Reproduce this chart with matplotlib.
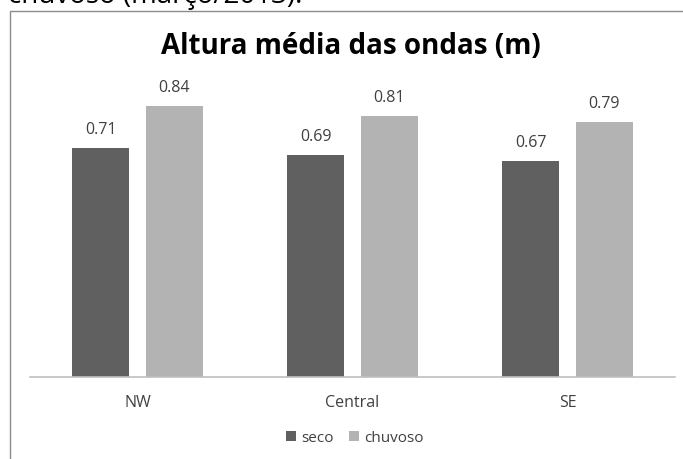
import numpy as np
import matplotlib
matplotlib.use('Agg')
import matplotlib.pyplot as plt
from matplotlib.patches import Rectangle

# Data
categories = ['NW', 'Central', 'SE']
seco = [0.71, 0.69, 0.67]
chuvoso = [0.84, 0.81, 0.79]
series_names = ['seco', 'chuvoso']
title = 'Altura média das ondas (m)'
caption = 'chuvoso (março/2013).'

plt.rcParams['font.family'] = ['Open Sans', 'DejaVu Sans']

W, H = 683, 459
fig = plt.figure(figsize=(W / 100, H / 100), dpi=100)

# chart frame (extends past right and bottom edges)
fig.patches.append(Rectangle((10 / W, -0.1), 1.2, (H - 11) / H + 0.1,
                             transform=fig.transFigure, fill=False,
                             edgecolor='#8c8c8c', linewidth=1.0))

# caption text cut off by the page crop
fig.text(302 / W, 1 - 3 / H, caption, ha='right', va='baseline',
         fontsize=20, color='black')

ax = fig.add_axes([30 / W, 82 / H, 645 / W, 290 / H])
x = np.arange(len(categories))
width = 0.265
off = 0.17
b1 = ax.bar(x - off, seco, width, color='#606060', label=series_names[0])
b2 = ax.bar(x + off, chuvoso, width, color='#b3b3b3', label=series_names[1])

for bars, vals in [(b1, seco), (b2, chuvoso)]:
    for rect, v in zip(bars, vals):
        ax.annotate(f'{v:.2f}', (rect.get_x() + rect.get_width() / 2, v),
                    xytext=(0, 13), textcoords='offset points',
                    ha='center', va='center', fontsize=11.5, color='#404040')

ax.set_xlim(-0.5, 2.5)
ax.set_ylim(0, 0.9)
ax.set_xticks(x)
ax.set_xticklabels(categories, fontsize=11.5, color='#404040')
ax.tick_params(axis='x', length=0, pad=13)
ax.set_yticks([])
for s in ['top', 'right', 'left']:
    ax.spines[s].set_visible(False)
ax.spines['bottom'].set_color('#bfbfbf')
ax.spines['bottom'].set_linewidth(1.2)

fig.text(351 / W, 1 - 46 / H, title, ha='center', va='center',
         fontsize=20, fontweight='bold', color='black')

leg = fig.legend(handles=[b1, b2], labels=series_names, loc='center',
                 bbox_to_anchor=(355 / W, 1 - 438 / H), ncol=2, frameon=False,
                 fontsize=11, handlelength=0.65, handleheight=0.65,
                 handletextpad=0.35, columnspacing=1.0)
for t in leg.get_texts():
    t.set_color('#404040')

fig.savefig('out.png', dpi=100)
